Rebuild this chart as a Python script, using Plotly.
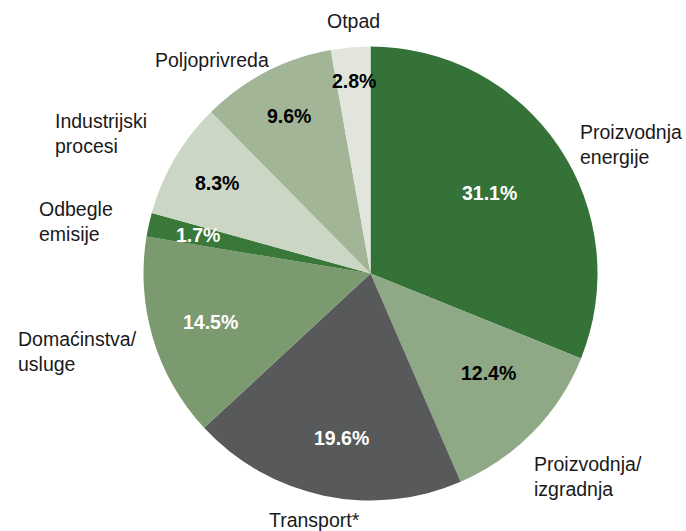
import numpy as np
import plotly.graph_objects as go

# data
sectors = ["Proizvodnja<br>energije", "Proizvodnja/<br>izgradnja", "Transport*",
           "Domaćinstva/<br>usluge", "Odbegle<br>emisije", "Industrijski<br>procesi",
           "Poljoprivreda", "Otpad"]
shares = [31.1, 12.4, 19.6, 14.5, 1.7, 8.3, 9.6, 2.8]
colors = ["#347237", "#8fa886", "#58595b", "#7c9a70", "#3a783a", "#ccd6c4", "#a2b697", "#e2e5dc"]
pct_colors = ["white", "black", "white", "white", "white", "black", "black", "black"]

W, H = 686, 531
cx, cy, R = 370.5, 273.5, 227

# how far out (fraction of radius) each % label sits
label_r = [0.63, 0.68, 0.735, 0.735, 0.78, 0.785, 0.78, 0.85]
# small angular nudge (deg) for % labels
label_da = [0, -4, -2, 0, 0, 0, 0, 0]
# outside label anchors in pixels (x, y, xanchor)
outer = [(578, 145, "left"), (532, 476, "left"), (314, 520, "center"),
         (16, 351, "left"), (37, 221, "left"), (53, 134, "left"),
         (153, 60, "left"), (353, 21, "center")]

fig = go.Figure(go.Pie(
    labels=sectors, values=shares, sort=False, direction="clockwise", rotation=0,
    marker=dict(colors=colors, line=dict(width=0)),
    textinfo="none", hoverinfo="label+value", showlegend=False,
    domain=dict(x=[(cx - R) / W, (cx + R) / W], y=[1 - (cy + R) / H, 1 - (cy - R) / H]),
))

font_lbl = dict(family="Liberation Sans", size=19.5, color="#1a1a1a")
font_pct = dict(family="Liberation Sans", size=19.5)

annotations = []
cum = np.cumsum([0] + shares[:-1])
total = sum(shares)
for i, v in enumerate(shares):
    ang = np.radians((cum[i] + v / 2) / total * 360 + label_da[i])
    px = cx + label_r[i] * R * np.sin(ang)
    py = cy - label_r[i] * R * np.cos(ang)
    annotations.append(dict(
        x=px / W, y=1 - py / H, xref="paper", yref="paper", showarrow=False,
        text=f"<b>{v:.1f}%</b>", font=dict(font_pct, color=pct_colors[i]),
        xanchor="center", yanchor="middle"))
    ox, oy, anc = outer[i]
    annotations.append(dict(
        x=ox / W, y=1 - oy / H, xref="paper", yref="paper", showarrow=False,
        text=sectors[i], font=font_lbl, align=anc,
        xanchor=anc, yanchor="middle"))

fig.update_layout(
    width=W, height=H, margin=dict(l=0, r=0, t=0, b=0),
    paper_bgcolor="white", plot_bgcolor="white",
    annotations=annotations,
)

# drop the default 8px page margin so the figure fills the window exactly
fig.write_html("out.html", config={"displayModeBar": False},
               post_script="document.body.style.margin='0';document.body.style.overflow='hidden';")
